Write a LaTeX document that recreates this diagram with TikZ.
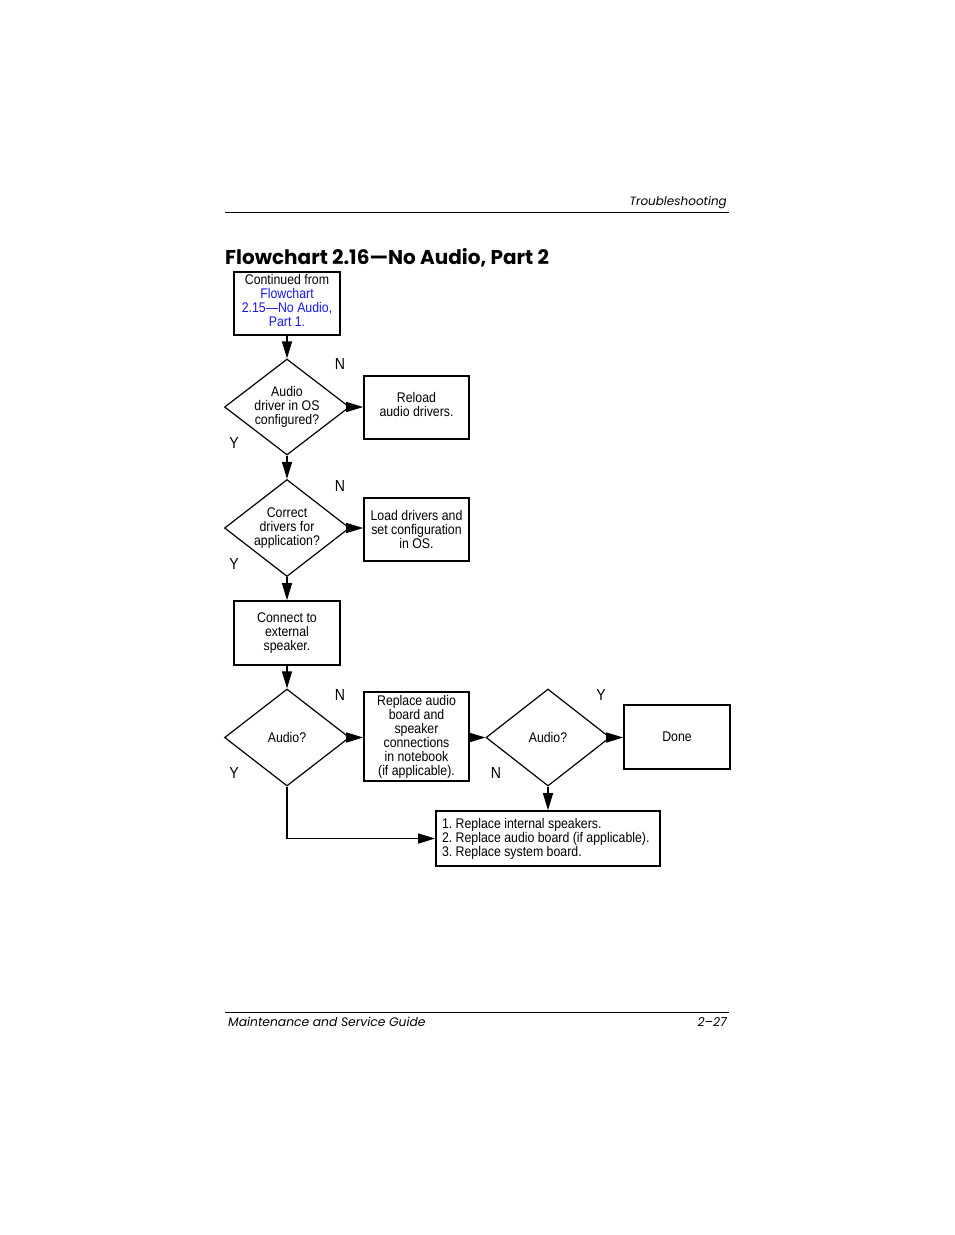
\documentclass[tikz,border=0pt]{standalone}
\usepackage{fontspec}
\setmainfont[FakeStretch=0.88]{Liberation Sans}
\newfontfamily\hdrfont{Poppins}
\usetikzlibrary{shapes.geometric,arrows.meta}
\definecolor{linkblue}{RGB}{25,25,235}
\newcommand\boxfont{\fontsize{14}{14}\selectfont}
\newcommand\labfont{\fontsize{16}{16}\selectfont}
\frenchspacing
\begin{document}
\frenchspacing
\begin{tikzpicture}[x=1pt,y=-1pt,
  box/.style={draw,line width=1.6pt,rectangle,inner sep=1pt,align=center,font=\boxfont},
  dec/.style={draw,line width=1.2pt,diamond,shape aspect=1.3,inner sep=0pt,minimum width=125pt,minimum height=96pt,align=center,font=\boxfont},
  arr/.style={line width=1.2pt,-{Triangle[length=17pt,width=10pt]}},
  lab/.style={font=\labfont,inner sep=0pt}]
\useasboundingbox (0,0) rectangle (954,1235);
% header and footer
\node[anchor=base east,inner sep=0pt,font=\hdrfont\itshape\fontsize{12}{12}\selectfont] (hd) at (727,205) {Troubleshooting};
\draw[line width=1pt] (225,212) -- (729,212);
\node[anchor=base west,inner sep=0pt,font=\hdrfont\bfseries\fontsize{20}{20}\selectfont] (title) at (225,264) {Flowchart 2.16—No Audio, Part 2};
\draw[line width=1pt] (225,1012) -- (729,1012);
\node[anchor=base west,inner sep=0pt,font=\hdrfont\itshape\fontsize{12.3}{12.3}\selectfont] (ft) at (228,1026) {Maintenance and Service Guide};
\node[anchor=base east,inner sep=0pt,font=\hdrfont\itshape\fontsize{12.3}{12.3}\selectfont] (pg) at (727,1026) {2–27};
% nodes
\node[box,minimum width=106pt,minimum height=63pt,text depth=6.5pt] (c) at (287,303.5) {Continued from\\\textcolor{linkblue}{Flowchart}\\\textcolor{linkblue}{2.15—No Audio,}\\\textcolor{linkblue}{Part 1.}};
\node[dec] (d1) at (287,407) {Audio\\driver in OS\\configured?};
\node[box,minimum width=105pt,minimum height=63pt,text depth=6.5pt] (r1) at (416.5,407.5) {Reload\\audio drivers.};
\node[dec,minimum height=97pt] (d2) at (287,528) {Correct\\drivers for\\application?};
\node[box,minimum width=105pt,minimum height=63pt] (r2) at (416.5,529.5) {Load drivers and\\set configuration\\in OS.};
\node[box,minimum width=106pt,minimum height=64pt] (r3) at (287,633) {Connect to\\external\\speaker.};
\node[dec,minimum height=97pt] (d3) at (287,737.5) {Audio?};
\node[box,minimum width=105pt,minimum height=89pt] (r4) at (416.5,736.5) {Replace audio\\board and\\speaker\\connections\\in notebook\\(if applicable).};
\node[dec,minimum width=124pt,minimum height=97pt] (d4) at (548,737.5) {Audio?};
\node[box,minimum width=106pt,minimum height=64pt] (r5) at (677,737) {Done};
\node[box,text width=212pt,align=flush left,inner xsep=6pt,minimum height=55pt] (r6) at (548,838.5) {1. Replace internal speakers.\\2. Replace audio board (if applicable).\\3. Replace system board.};
% labels
\node[lab] (n1) at (340,364) {N};
\node[lab] (y1) at (234,443) {Y};
\node[lab] (n2) at (340,486) {N};
\node[lab] (y2) at (234,564) {Y};
\node[lab] (n3) at (340,695) {N};
\node[lab] (y3) at (234,773) {Y};
\node[lab] (y4) at (601,695) {Y};
\node[lab] (n4) at (496,773) {N};
% connectors
\draw[arr] (c) -- (d1);
\draw[arr] (d1.east) -- (d1.east -| r1.west);
\draw[arr] (d1) -- (d2);
\draw[arr] (d2.east) -- (d2.east -| r2.west);
\draw[arr] (d2) -- (r3);
\draw[arr] (r3) -- (d3);
\draw[arr] (d3.east) -- (d3.east -| r4.west);
\draw[arr] (r4.east |- d4.west) -- (d4.west);
\draw[arr] (d4.east) -- (d4.east -| r5.west);
\draw[arr] (d4.south) -- (d4.south |- r6.north);
\draw[arr] (d3.south) |- (r6.west);
\end{tikzpicture}
\end{document}
